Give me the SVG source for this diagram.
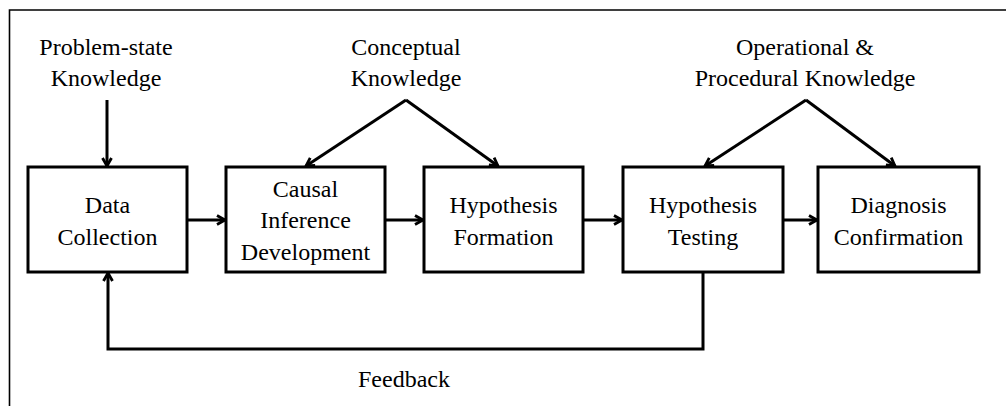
<svg xmlns="http://www.w3.org/2000/svg" width="1006" height="406" viewBox="0 0 1006 406">
<defs>
<marker id="ah" viewBox="0 0 12 12" refX="10.5" refY="6" markerWidth="12" markerHeight="12" markerUnits="userSpaceOnUse" orient="auto">
<path d="M2.5,1.5 L10.5,6 L2.5,10.5" fill="none" stroke="#000" stroke-width="2.8" stroke-linejoin="miter"/>
</marker>
<style>
.box{fill:#fff;stroke:#000;stroke-width:3}
.t{font-family:"Liberation Serif","Times New Roman",serif;font-size:24px;fill:#000;text-anchor:middle}
.c{fill:none;stroke:#000;stroke-width:3;marker-end:url(#ah)}
.f{fill:none;stroke:#000;stroke-width:1.6}
</style>
</defs>
<rect x="0" y="0" width="1006" height="406" fill="#fff"/>
<path class="f" d="M9.5,406 L9.5,10 L1006,10"/>

<g id="label-problem">
<text class="t" x="106" y="55">Problem-state</text>
<text class="t" x="106" y="86">Knowledge</text>
</g>
<g id="label-conceptual">
<text class="t" x="406" y="55">Conceptual</text>
<text class="t" x="406" y="86">Knowledge</text>
</g>
<g id="label-operational">
<text class="t" x="805" y="55">Operational &amp;</text>
<text class="t" x="805" y="86">Procedural Knowledge</text>
</g>

<g id="node-data">
<rect class="box" x="28" y="167" width="159" height="105"/>
<text class="t" x="107.5" y="213">Data</text>
<text class="t" x="107.5" y="245">Collection</text>
</g>
<g id="node-causal">
<rect class="box" x="226" y="167" width="159" height="105"/>
<text class="t" x="305.5" y="197">Causal</text>
<text class="t" x="305.5" y="228">Inference</text>
<text class="t" x="305.5" y="260">Development</text>
</g>
<g id="node-formation">
<rect class="box" x="424" y="167" width="159" height="105"/>
<text class="t" x="503.5" y="213">Hypothesis</text>
<text class="t" x="503.5" y="245">Formation</text>
</g>
<g id="node-testing">
<rect class="box" x="623" y="167" width="160" height="105"/>
<text class="t" x="703" y="213">Hypothesis</text>
<text class="t" x="703" y="245">Testing</text>
</g>
<g id="node-diagnosis">
<rect class="box" x="818" y="167" width="161" height="105"/>
<text class="t" x="898.5" y="213">Diagnosis</text>
<text class="t" x="898.5" y="245">Confirmation</text>
</g>

<g id="connectors">
<path class="c" d="M107,100 L107,166"/>
<path class="c" d="M406,100 L306,166"/>
<path class="c" d="M406,100 L498,166"/>
<path class="c" d="M806,100 L705,166"/>
<path class="c" d="M806,100 L895,166"/>
<path class="c" d="M187,220 L225,220"/>
<path class="c" d="M385,220 L423,220"/>
<path class="c" d="M583,220 L622,220"/>
<path class="c" d="M783,220 L817,220"/>
<path class="c" d="M703,272 L703,349 L108,349 L108,273"/>
<text class="t" x="404" y="387">Feedback</text>
</g>
</svg>
